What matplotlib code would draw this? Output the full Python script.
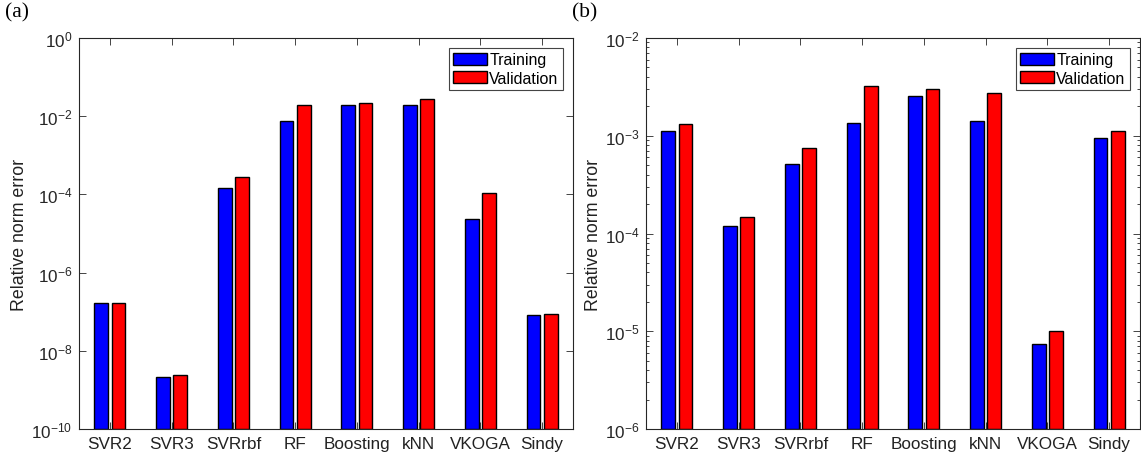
import numpy as np
import matplotlib.pyplot as plt
from matplotlib.ticker import LogLocator, NullLocator, NullFormatter

plt.rcParams['font.family'] = ['Liberation Sans', 'DejaVu Sans']
plt.rcParams['mathtext.default'] = 'regular'

methods = ["SVR2", "SVR3", "SVRrbf", "RF", "Boosting", "kNN", "VKOGA", "Sindy"]

# relative norm errors, panel (a)
train_a = [1.68e-7, 2.1e-9, 1.48e-4, 7.4e-3, 1.88e-2, 1.88e-2, 2.3e-5, 8.3e-8]
valid_a = [1.68e-7, 2.3e-9, 2.8e-4, 1.88e-2, 2.2e-2, 2.7e-2, 1.07e-4, 8.7e-8]

# relative norm errors, panel (b)
train_b = [1.11e-3, 1.17e-4, 5.08e-4, 1.35e-3, 2.53e-3, 1.43e-3, 6.4e-6, 9.5e-4]
valid_b = [1.33e-3, 1.46e-4, 7.5e-4, 3.2e-3, 3.03e-3, 2.72e-3, 8.95e-6, 1.11e-3]

W, H = 1141, 460
fig = plt.figure(figsize=(W / 100, H / 100), dpi=100)
axc = '#262626'


def panel(left, train, valid, ylim, major_step, minor, tag):
    ax = fig.add_axes([left / W, 30 / H, 494 / W, 391 / H])
    x = np.arange(1, len(methods) + 1)
    ax.bar(x - 0.14, train, width=0.225, bottom=ylim[0], color='#0000ff',
           edgecolor='black', linewidth=1.0, label='Training')
    ax.bar(x + 0.14, valid, width=0.225, bottom=ylim[0], color='#ff0000',
           edgecolor='black', linewidth=1.0, label='Validation')
    ax.set_yscale('log')
    ax.set_ylim(*ylim)
    ax.set_xlim(0.5, len(methods) + 0.5)
    lo, hi = np.log10(ylim)
    ax.set_yticks(10.0 ** np.arange(lo, hi + 1, major_step))
    if minor:
        ax.yaxis.set_minor_locator(LogLocator(base=10, subs=np.arange(2, 10)))
    else:
        ax.yaxis.set_minor_locator(NullLocator())
    ax.yaxis.set_minor_formatter(NullFormatter())
    ax.set_xticks(x)
    ax.set_xticklabels(methods)
    ax.set_axisbelow(True)
    ax.tick_params(axis='both', which='major', direction='in', length=5,
                   width=0.6, top=True, right=True, labelsize=12.3,
                   colors=axc, pad=5)
    ax.tick_params(axis='y', which='minor', direction='in', length=2.5,
                   width=0.6, right=True, colors=axc)
    ax.tick_params(axis='x', labelcolor='#222222')
    for s in ax.spines.values():
        s.set_color(axc)
        s.set_linewidth(0.8)
    ax.set_ylabel('Relative norm error', fontsize=12.8, color='#222222',
                  labelpad=2)
    leg = ax.legend(loc='upper right', fontsize=11.5, fancybox=False,
                    framealpha=1, edgecolor='#444444', borderaxespad=0.6,
                    handlelength=2.1, handleheight=0.8, handletextpad=0.15,
                    labelspacing=0.2, borderpad=0.3)
    leg.get_frame().set_linewidth(0.8)
    fig.text((left - 74) / W, 1 - 3 / H, tag, family='Liberation Serif',
             fontsize=15.5, va='top', ha='left')
    return ax


panel(79, train_a, valid_a, (1e-10, 1e0), 2, False, '(a)')
panel(646, train_b, valid_b, (1e-6, 1e-2), 1, True, '(b)')

fig.savefig('out.png', dpi=100)
